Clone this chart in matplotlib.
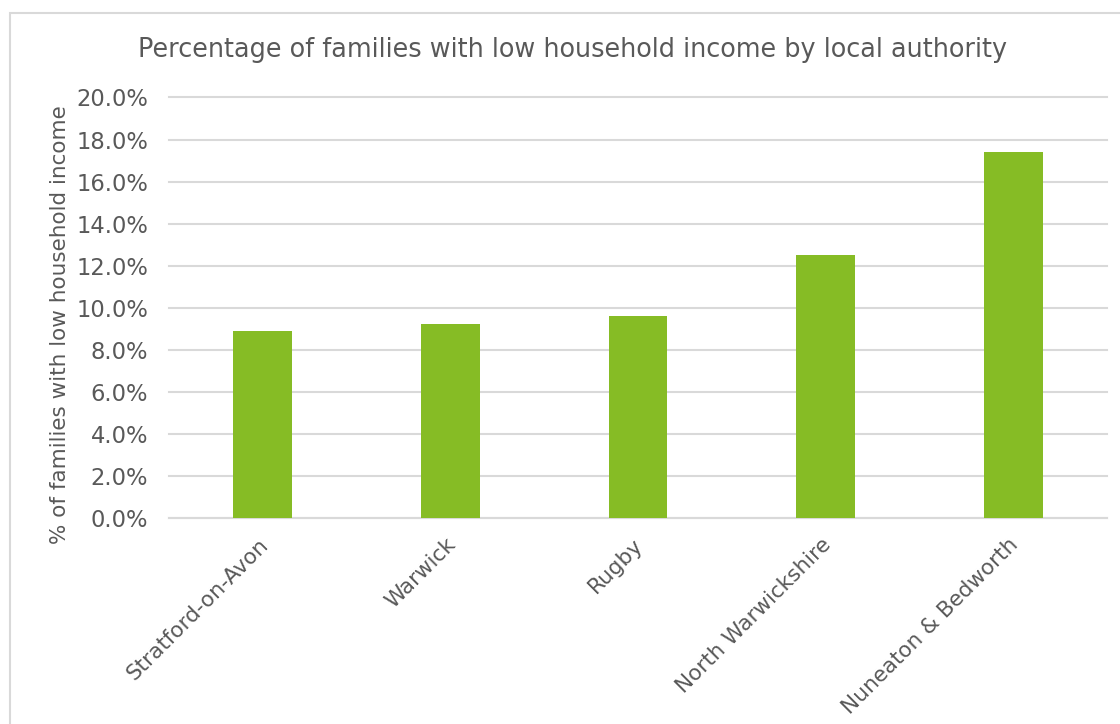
import matplotlib.pyplot as plt
from matplotlib.patches import Rectangle
from matplotlib.ticker import PercentFormatter
from matplotlib.transforms import ScaledTranslation

plt.rcParams['font.family'] = ['DejaVu Sans']

# Low household income share by Warwickshire local authority
authorities = ['Stratford-on-Avon', 'Warwick', 'Rugby',
               'North Warwickshire', 'Nuneaton & Bedworth']
low_income_pct = [8.9, 9.2, 9.6, 12.5, 17.4]
y_ticks = [0, 2, 4, 6, 8, 10, 12, 14, 16, 18, 20]

text_grey = '#595959'
grid_grey = '#D9D9D9'
bar_green = '#86BC25'

W, H = 1120, 724
fig = plt.figure(figsize=(W / 100, H / 100), dpi=100)

# light frame around the chart area (runs off the right and bottom edges)
fig.patches.append(Rectangle((10 / W, -0.05), 1.0, 1 - 13 / H + 0.05,
                             transform=fig.transFigure, fill=False,
                             edgecolor=grid_grey, linewidth=1.5))

ax = fig.add_axes([169 / W, 1 - 517.7 / H, (1107 - 169) / W, (517.7 - 97.5) / H])

x = range(len(authorities))
ax.bar(x, low_income_pct, width=0.313, color=bar_green, zorder=3)

ax.set_xlim(-0.5, len(authorities) - 0.5)
ax.set_ylim(0, 20)
ax.set_yticks(y_ticks)
ax.yaxis.set_major_formatter(PercentFormatter(decimals=1))
ax.grid(axis='y', color=grid_grey, linewidth=1.5, zorder=0)
for gl in ax.get_ygridlines():
    gl.set_clip_on(False)

for side in ['top', 'right', 'left']:
    ax.spines[side].set_visible(False)
ax.spines['bottom'].set_color(grid_grey)
ax.spines['bottom'].set_linewidth(1.5)

ax.tick_params(axis='y', length=0, pad=15, labelsize=16.3, labelcolor=text_grey)
ax.tick_params(axis='x', length=0, pad=12, labelsize=15.5, labelcolor=text_grey)
ax.set_xticks(list(x))
ax.set_xticklabels(authorities, rotation=45, ha='right',
                   rotation_mode='anchor')
# nudge the slanted category labels a little to the left
shift = ScaledTranslation(-5 / 100, 0, fig.dpi_scale_trans)
for lbl in ax.get_xticklabels():
    lbl.set_transform(lbl.get_transform() + shift)

fig.text(573 / W, 1 - 50 / H,
         'Percentage of families with low household income by local authority',
         ha='center', va='center', fontsize=18.4, color=text_grey)
fig.text(60 / W, 1 - 325 / H, '% of families with low household income',
         rotation=90, ha='center', va='center', fontsize=15.5, color=text_grey)

fig.savefig('out.png', dpi=100)
